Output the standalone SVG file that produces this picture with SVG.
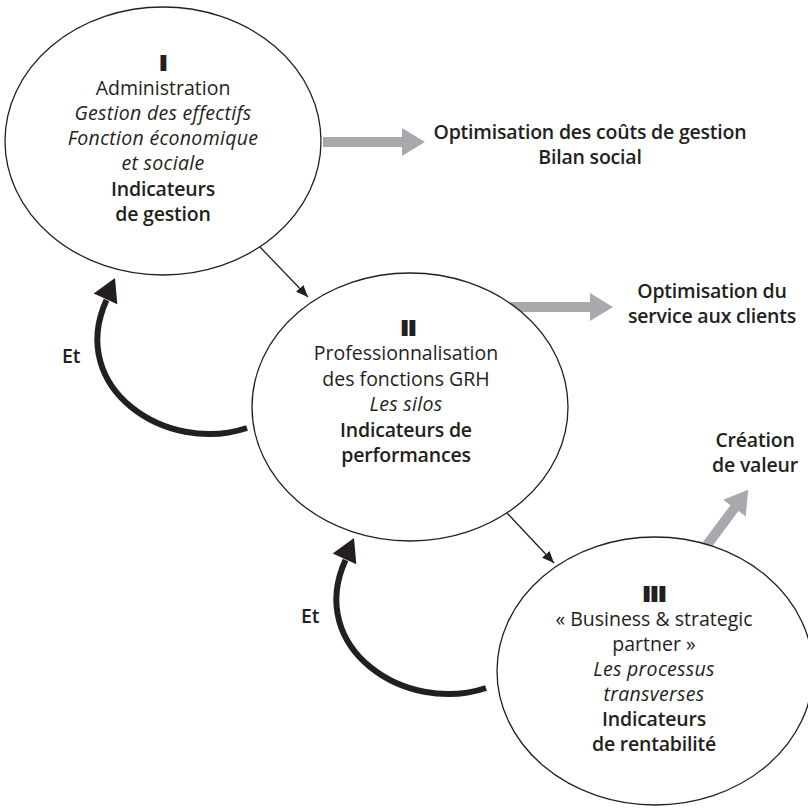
<svg xmlns="http://www.w3.org/2000/svg" width="808" height="808" viewBox="0 0 808 808">
  <defs>
    <style>
      .t { font-family: "Open Sans", "Noto Sans", "Liberation Sans", sans-serif; font-size: 19.5px; fill: #231f20; text-anchor: middle; }
      .b { font-weight: 600; letter-spacing: -0.2px; }
      .i { font-style: italic; letter-spacing: 0.3px; }
      .num { font-weight: 800; stroke: #231f20; stroke-width: 2; letter-spacing: 1px; }
      .node { fill: #ffffff; stroke: #231f20; stroke-width: 1.3; }
      .thin { fill: none; stroke: #231f20; stroke-width: 1.3; }
      .loop { fill: none; stroke: #231f20; stroke-width: 6; }
      .head { fill: #231f20; }
      .grey { fill: #a7a9ac; }
    </style>
    <marker id="tip" viewBox="0 0 12 10" refX="12" refY="5" markerWidth="12" markerHeight="10" markerUnits="userSpaceOnUse" orient="auto">
      <path d="M0,0 L12,5 L0,10 Z" fill="#231f20"/>
    </marker>
    <!-- thick curved return arrow, drawn once and reused -->
    <g id="loop-arrow">
      <path class="loop" d="M247,428 C166,455 66.5,388 106.5,300"/>
      <polygon class="head" points="115,278 93.7,293.5 117.3,304.3"/>
    </g>
  </defs>

  <rect width="808" height="808" fill="#ffffff"/>

  <!-- connectors -->
  <g id="connectors">
    <!-- grey output arrows -->
    <path class="grey" transform="translate(323,142)" d="M0,-5 H79 V-14 L102,0 L79,14 V5 H0 Z"/>
    <path class="grey" transform="translate(511,307)" d="M0,-5 H79 V-14 L102,0 L79,14 V5 H0 Z"/>
    <path class="grey" transform="translate(707,545) rotate(-53.3)" d="M0,-5 H46 V-14 L69,0 L46,14 V5 H0 Z"/>
    <!-- stage-to-stage arrows -->
    <line class="thin" x1="260" y1="247" x2="308" y2="297" marker-end="url(#tip)"/>
    <line class="thin" x1="507" y1="513" x2="554" y2="563" marker-end="url(#tip)"/>
    <!-- feedback loops -->
    <use href="#loop-arrow"/>
    <use href="#loop-arrow" transform="translate(239,260)"/>
  </g>

  <!-- stage I -->
  <g id="stage-1">
    <ellipse class="node" cx="163" cy="141" rx="158" ry="134"/>
    <text class="t num" x="164" y="70">I</text>
    <text class="t" x="163" y="95">Administration</text>
    <text class="t i" x="163" y="120">Gestion des effectifs</text>
    <text class="t i" x="163" y="145">Fonction économique</text>
    <text class="t i" x="163" y="170">et sociale</text>
    <text class="t b" x="163" y="196">Indicateurs</text>
    <text class="t b" x="163" y="221">de gestion</text>
  </g>

  <!-- stage II -->
  <g id="stage-2">
    <ellipse class="node" cx="410" cy="407" rx="158" ry="134"/>
    <text class="t num" x="409" y="335">II</text>
    <text class="t" x="406" y="360">Professionnalisation</text>
    <text class="t" x="406" y="386">des fonctions GRH</text>
    <text class="t i" x="406" y="411">Les silos</text>
    <text class="t b" x="406" y="437">Indicateurs de</text>
    <text class="t b" x="406" y="462">performances</text>
  </g>

  <!-- stage III -->
  <g id="stage-3">
    <ellipse class="node" cx="655" cy="671" rx="158" ry="134"/>
    <text class="t num" x="655" y="601">III</text>
    <text class="t" x="654" y="626">« Business &amp; strategic</text>
    <text class="t" x="654" y="651">partner »</text>
    <text class="t i" x="654" y="676">Les processus</text>
    <text class="t i" x="654" y="701">transverses</text>
    <text class="t b" x="654" y="726">Indicateurs</text>
    <text class="t b" x="654" y="751">de rentabilité</text>
  </g>

  <!-- outcomes -->
  <g id="outcome-1">
    <text class="t b" x="590" y="139">Optimisation des coûts de gestion</text>
    <text class="t b" x="590" y="164">Bilan social</text>
  </g>
  <g id="outcome-2">
    <text class="t b" x="712" y="298">Optimisation du</text>
    <text class="t b" x="712" y="323">service aux clients</text>
  </g>
  <g id="outcome-3">
    <text class="t b" x="755" y="447">Création</text>
    <text class="t b" x="755" y="472">de valeur</text>
  </g>

  <!-- loop labels -->
  <g id="loop-labels">
    <text class="t b" x="62" y="363" style="text-anchor:start">Et</text>
    <text class="t b" x="301" y="623" style="text-anchor:start">Et</text>
  </g>
</svg>
